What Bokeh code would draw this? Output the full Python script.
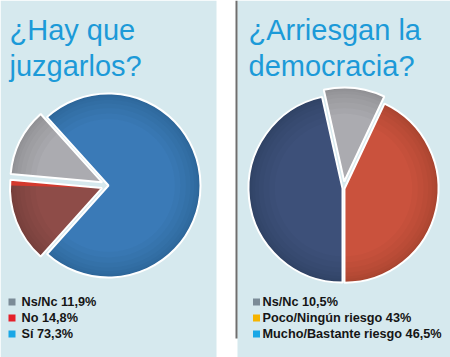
import numpy as np
from bokeh.plotting import figure
from bokeh.models import Range1d, BoxAnnotation
from bokeh.core.properties import value
from bokeh.embed import file_html
from bokeh.resources import INLINE

# ---------------- data ----------------
left_title = ["¿Hay que", "juzgarlos?"]
left_labels = ["Ns/Nc", "No", "Sí"]
left_values = [11.9, 14.8, 73.3]
left_legend = ["Ns/Nc 11,9%", "No 14,8%", "Sí 73,3%"]

right_title = ["¿Arriesgan la", "democracia?"]
right_labels = ["Ns/Nc", "Poco/Ningún riesgo", "Mucho/Bastante riesgo"]
right_values = [10.5, 43.0, 46.5]
right_legend = ["Ns/Nc 10,5%", "Poco/Ningún riesgo 43%", "Mucho/Bastante riesgo 46,5%"]

# ---------------- styles ----------------
W, H = 450, 357
BG = "#d6e9ee"
TITLE_COLOR = "#1c9ad8"
left_pie_colors = ["#ababb0", "#8e4c48", "#3a7ab7"]
left_edge_colors = [None, "#d4392d", None]
left_swatch = ["#7b8b97", "#e4202a", "#19a7e6"]
right_pie_colors = ["#ababb0", "#ca523d", "#3d5079"]
right_edge_colors = [None, None, None]
right_swatch = ["#7b8b97", "#f6b400", "#19a7e6"]
RIM_STEPS = [0.72, 0.78, 0.84, 0.89, 0.93, 0.96, 0.98]

p = figure(width=W, height=H, output_backend="svg", toolbar_location=None,
           x_range=Range1d(0, W), y_range=Range1d(0, H),
           x_axis_type=None, y_axis_type=None, min_border=0,
           outline_line_color=None, background_fill_color="white",
           border_fill_color="white")
p.grid.visible = False

def py(y):
    return H - y

# panels
p.add_layout(BoxAnnotation(left=0, right=216, bottom=0, top=H, fill_color=BG,
                           fill_alpha=1, line_alpha=0, level="underlay"))
p.add_layout(BoxAnnotation(left=237, right=W, bottom=0, top=H, fill_color=BG,
                           fill_alpha=1, line_alpha=0, level="underlay"))
p.add_layout(BoxAnnotation(left=235, right=237, bottom=py(338), top=H, fill_color="#6e6e6e",
                           fill_alpha=1, line_alpha=0, level="underlay"))


def pie(values, colors, edges, cx, cy, r, order, start_deg, explode):
    vals = np.array(values, dtype=float)
    fr = vals / vals.sum() * 2 * np.pi
    a = np.deg2rad(start_deg)
    for i in order:
        s, e = a, a + fr[i]
        mid = (s + e) / 2
        ox = cx + explode[i] * np.cos(mid)
        oy = cy + explode[i] * np.sin(mid)
        p.wedge(x=[ox], y=[oy], radius=r, start_angle=s, end_angle=e,
                fill_color=colors[i], line_color=None)
        # smooth darkening toward the rim
        for ri in RIM_STEPS:
            p.annular_wedge(x=[ox], y=[oy], inner_radius=r * ri, outer_radius=r,
                            start_angle=s, end_angle=e,
                            fill_color="black", fill_alpha=0.022, line_color=None)
        if edges[i] is not None:
            p.wedge(x=[ox], y=[oy], radius=r, start_angle=s, end_angle=s + np.deg2rad(3.5),
                    fill_color=edges[i], line_color=None)
        p.wedge(x=[ox], y=[oy], radius=r, start_angle=s, end_angle=e,
                fill_color=None, line_color="white", line_width=2)
        a = e


pie(left_values, left_pie_colors, left_edge_colors, 108, py(185), 92, [0, 1, 2], 132, [7, 7, 0])
pie(right_values, right_pie_colors, right_edge_colors, 343, py(188), 94, [1, 0, 2], -90, [7, 1, 1])


def title(lines, x):
    p.text(x=[x, x], y=[py(29), py(65)], text=lines,
           text_font=value("Liberation Sans"), text_font_size="29px",
           text_color=TITLE_COLOR, text_baseline="alphabetic", text_align="left")

title(left_title, 9)
title(right_title, 248)


def legend(labels, colors, sx, tx):
    ys = [py(301.5), py(317.5), py(333.5)]
    p.scatter(x=[sx] * 3, y=ys, marker="square", size=7, fill_color=colors,
              line_color=None)
    p.text(x=[tx] * 3, y=ys, text=labels, text_font=value("Liberation Sans"),
           text_font_style="bold", text_font_size="12.7px", text_color="#151515",
           text_baseline="middle", text_align="left")

legend(left_legend, left_swatch, 11.5, 21)
legend(right_legend, right_swatch, 256, 262)

open("out.html", "w").write(file_html(p, INLINE))
